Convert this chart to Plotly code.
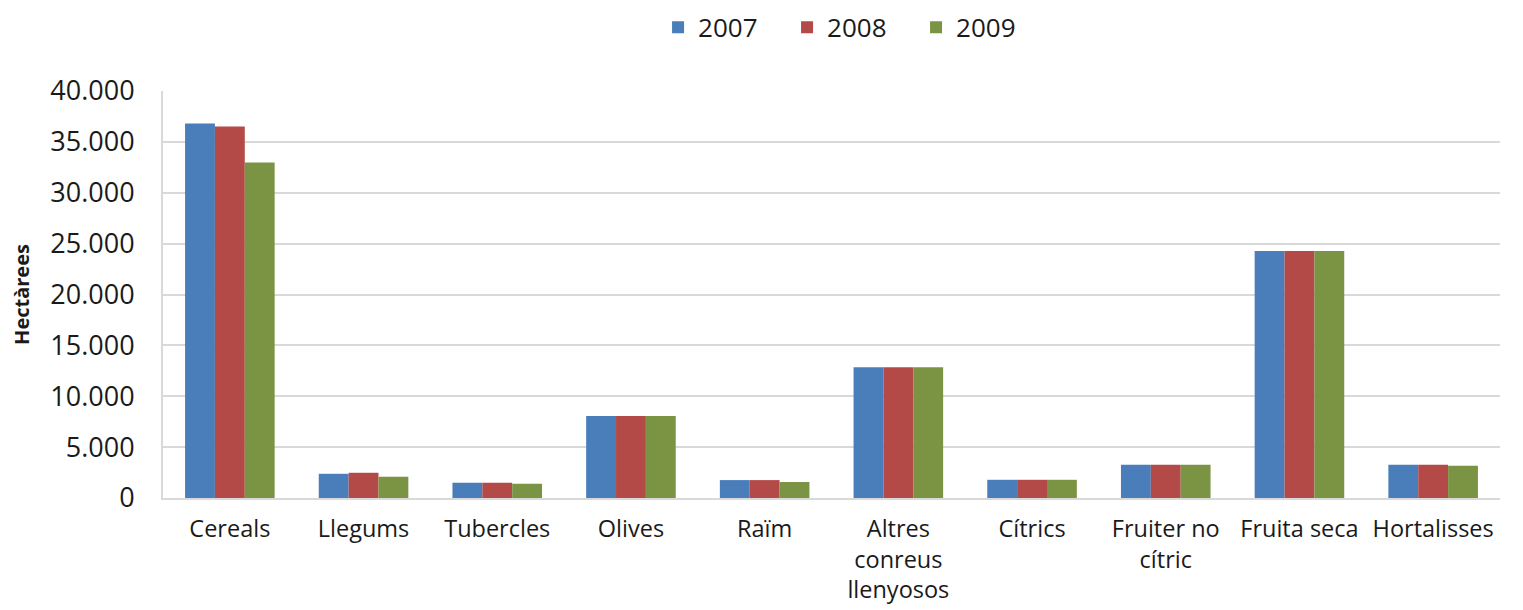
import plotly.graph_objects as go

categories = ["Cereals", "Llegums", "Tubercles", "Olives", "Raïm",
              "Altres<br>conreus<br>llenyosos", "Cítrics", "Fruiter no<br>cítric",
              "Fruita seca", "Hortalisses"]
years = ["2007", "2008", "2009"]
v2007 = [36800, 2380, 1500, 8050, 1760, 12840, 1790, 3260, 24280, 3260]
v2008 = [36500, 2480, 1500, 8050, 1760, 12840, 1790, 3260, 24280, 3260]
v2009 = [32970, 2090, 1400, 8050, 1570, 12840, 1790, 3260, 24280, 3170]
colors = ["#4A7EBB", "#B44A48", "#7B9444"]

fig = go.Figure()
for name, vals, col in zip(years, [v2007, v2008, v2009], colors):
    fig.add_trace(go.Bar(x=categories, y=vals, name=name, marker_color=col,
                         marker_line_width=0))

font = "Open Sans"
fig.update_layout(
    width=1515, height=602,
    margin=dict(l=155, r=23, t=83, b=112, autoexpand=False),
    paper_bgcolor="white", plot_bgcolor="white",
    barmode="group", bargap=0.33, bargroupgap=0,
    separators=",.",
    font=dict(family=font, size=24, color="#1a1a1a"),
    legend=dict(orientation="h", x=0.515, xanchor="center",
                yref="container", y=0.968, yanchor="middle",
                font=dict(size=26), entrywidth=84, itemwidth=30,
                bgcolor="rgba(0,0,0,0)"),
    xaxis=dict(showline=True, linecolor="#d9d9d9", linewidth=2, ticks="",
               tickfont=dict(size=23.5), showgrid=False, automargin=False,
               ticklabelstandoff=9),
    yaxis=dict(range=[0, 40000], dtick=5000, tickformat=",d",
               showgrid=True, gridcolor="#d9d9d9", gridwidth=2,
               showline=True, linecolor="#d9d9d9", linewidth=2,
               ticks="", ticklabelstandoff=21, zeroline=False,
               tickfont=dict(size=27), automargin=False,
               title=dict(text="<b>Hectàrees</b>", font=dict(size=20), standoff=20)),
)
fig.write_html("out.html")
